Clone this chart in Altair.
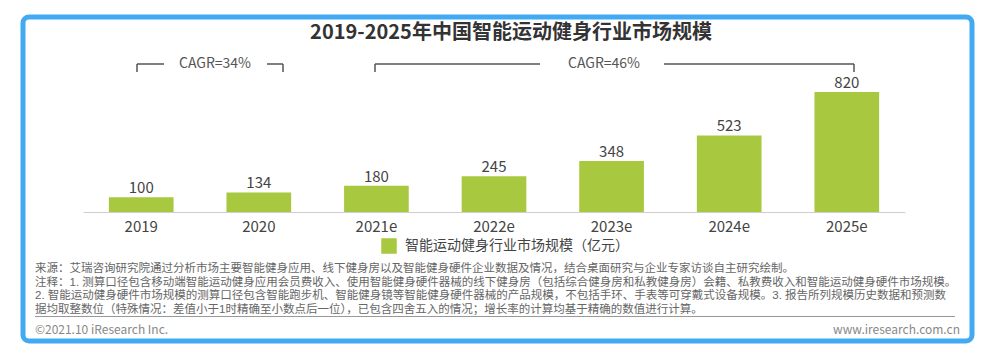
import altair as alt
import pandas as pd

# ---------------- data ----------------
years = ["2019", "2020", "2021e", "2022e", "2023e", "2024e", "2025e"]
values = [100, 134, 180, 245, 348, 523, 820]
series_name = "智能运动健身行业市场规模（亿元）"
title_text = "2019-2025年中国智能运动健身行业市场规模"
cagr_labels = ["CAGR=34%", "CAGR=46%"]
note_lines = [
    "来源：艾瑞咨询研究院通过分析市场主要智能健身应用、线下健身房以及智能健身硬件企业数据及情况，结合桌面研究与企业专家访谈自主研究绘制。",
    "注释：1. 测算口径包含移动端智能运动健身应用会员费收入、使用智能健身硬件器械的线下健身房（包括综合健身房和私教健身房）会籍、私教费收入和智能运动健身硬件市场规模。",
    "2. 智能运动健身硬件市场规模的测算口径包含智能跑步机、智能健身镜等智能健身硬件器械的产品规模，不包括手环、手表等可穿戴式设备规模。3. 报告所列规模历史数据和预测数",
    "据均取整数位（特殊情况：差值小于1时精确至小数点后一位），已包含四舍五入的情况；增长率的计算均基于精确的数值进行计算。",
]
footer_left = "©2021.10 iResearch Inc."
footer_right = "www.iresearch.com.cn"

df = pd.DataFrame({"year": years, "value": values, "series": [series_name] * len(years)})

FONT = "Noto Sans CJK SC"
NOTE_FONT = "Liberation Sans, Noto Sans CJK SC"
GREEN = "#A8C93F"
BLUE = "#42AAF2"
one = alt.Data(values=[{}])

# ---------------- bars ----------------
xenc = alt.X(
    "year:N", sort=years,
    scale=alt.Scale(paddingInner=0.45, paddingOuter=0.22),
    axis=alt.Axis(title=None, labelAngle=0, labelFontSize=15, labelColor="#444",
                  labelPadding=7, ticks=False, domainColor="#cfcfcf", domainWidth=1,
                  labelFont=FONT),
)
yenc = alt.Y("value:Q", scale=alt.Scale(domain=[0, 820], nice=False), axis=None)

base = alt.Chart(df).encode(x=xenc, y=yenc)
bars = base.mark_bar(color=GREEN).encode(
    color=alt.Color("series:N", scale=alt.Scale(range=[GREEN]),
                    legend=alt.Legend(title=None, orient="none", legendX=298, legendY=146,
                                      symbolType="square", symbolSize=240, symbolStrokeWidth=0,
                                      labelFontSize=14, labelColor="#444", labelFont=FONT,
                                      labelOffset=8, labelLimit=0, padding=0))
)
vlabels = base.mark_text(dy=-4, baseline="alphabetic", fontSize=15, color="#444", font=FONT).encode(
    text="value:Q")

layers = [bars, vlabels]

# ---------------- annotations (pixel positions relative to plot origin) ----------------
def txt(s, x, y, font=FONT, **kw):
    return alt.Chart(one).mark_text(text=s, font=font, **kw).encode(x=alt.value(x), y=alt.value(y))

def rule(x1, y1, x2, y2, color="#555", w=1.5):
    return alt.Chart(one).mark_rule(color=color, strokeWidth=w).encode(
        x=alt.value(x1), y=alt.value(y1), x2=alt.value(x2), y2=alt.value(y2))

# frame
frame = alt.Chart(one).mark_rect(filled=False, stroke=BLUE, strokeWidth=5, cornerRadius=6).encode(
    x=alt.value(-60), x2=alt.value(889), y=alt.value(-75), y2=alt.value(249))
layers.insert(0, frame)

# title
layers.append(txt(title_text, 428, -59, fontSize=20, fontWeight="bold", color="#333",
                  align="center", baseline="middle"))

# CAGR brackets
by, bt = -28, -20
layers += [
    rule(54, by, 81, by), rule(54, by, 54, bt),
    rule(184, by, 200, by), rule(200, by, 200, bt),
    txt(cagr_labels[0], 132, by, fontSize=14, color="#555", align="center", baseline="middle"),
    rule(292, by, 457, by), rule(292, by, 292, bt),
    rule(581, by, 771, by), rule(771, by, 771, bt),
    txt(cagr_labels[1], 521, by, fontSize=14, color="#555", align="center", baseline="middle"),
]

# notes
note_y = [177, 190.5, 204, 217.5]
for line, yy in zip(note_lines, note_y):
    layers.append(txt(line, -48, yy, font=NOTE_FONT, fontSize=11.5, color="#666",
                      align="left", baseline="middle"))

layers.append(rule(-48, 224.5, 872, 224.5, color="#999", w=1))
layers.append(txt(footer_left, -48, 238, fontSize=12, color="#888", align="left", baseline="middle"))
layers.append(txt(footer_right, 877, 238, fontSize=12, color="#888", align="right", baseline="middle"))

chart = alt.layer(*layers).properties(
    width=822, height=120,
    autosize=alt.AutoSizeParams(type="none"),
    padding={"left": 75, "top": 84, "right": 87, "bottom": 139},
    background="white",
).configure_view(stroke=None)

chart.save("out.html", embed_options={"renderer": "svg", "actions": False})
